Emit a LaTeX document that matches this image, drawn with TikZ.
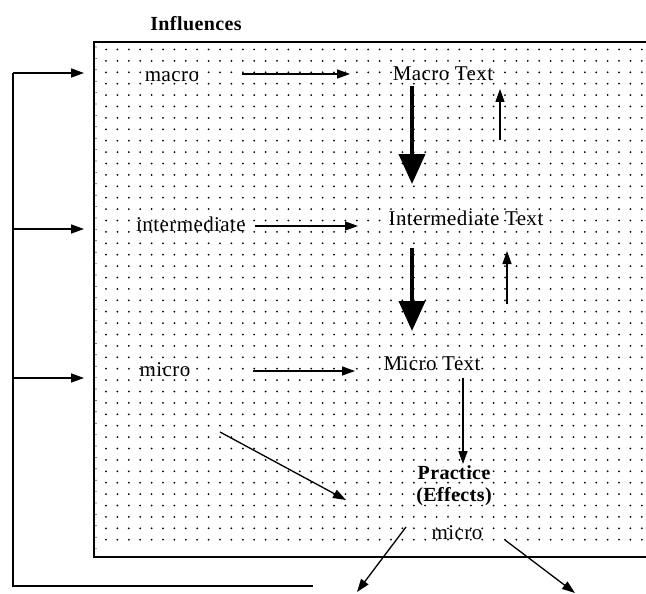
\documentclass[tikz,border=0pt]{standalone}
\usepackage{fontspec}
\setmainfont{Liberation Serif}[LetterSpace=2]
\usetikzlibrary{arrows.meta}
\begin{document}
\begin{tikzpicture}[x=1pt,y=-1pt,
  lbl/.style={inner sep=0pt, font=\fontsize{21}{23}\selectfont},
  bold/.style={inner sep=0pt, font=\fontsize{20}{22}\selectfont\bfseries, align=center},
  thin/.style={line width=1.3pt, -{Triangle[length=13pt,width=9pt]}},
  thick/.style={line width=4pt, -{Triangle[length=30pt,width=26pt]}},
  fb/.style={line width=1.6pt}]
\useasboundingbox (0,0) rectangle (646,594);
\begin{scope}
\clip (0,0) rectangle (646,594);
% box
\draw[line width=1.6pt] (94,42) rectangle (660,557);
\foreach \i in {0,...,47} {
  \foreach \j in {0,...,43} {
    \fill (106+\i*11.4, 49.5+\j*11.4) circle (1pt);
  }
}
\foreach \j in {0,...,44} { \fill (96, 47+\j*11.4) circle (0.6pt); }
\end{scope}

\node[bold] (infl) at (196,24) {Influences};

% nodes
\node[lbl] (macro) at (172,77) {macro};
\node[lbl] (inter) at (191,224) {intermediate};
\node[lbl] (micro) at (165,370) {micro};
\node[lbl] (mtext) at (443,74) {Macro Text};
\node[lbl] (itext) at (466,218) {Intermediate Text};
\node[lbl] (mitext) at (432,364) {Micro Text};
\node[bold] (prac) at (454,486) {Practice\\(Effects)};
\node[lbl] (micro2) at (457,533) {micro};

% coordinates
\coordinate (a1s) at (242,74);  \coordinate (a1e) at (350,74);
\coordinate (a2s) at (255,226); \coordinate (a2e) at (358,226);
\coordinate (a3s) at (253,371); \coordinate (a3e) at (355,371);
\coordinate (t1s) at (412,86);  \coordinate (t1e) at (412,184);
\coordinate (t2s) at (412,248); \coordinate (t2e) at (412,331);
\coordinate (u1s) at (500,140); \coordinate (u1e) at (500,89);
\coordinate (u2s) at (507,304); \coordinate (u2e) at (507,251);
\coordinate (d1s) at (463,378); \coordinate (d1e) at (463,464);
\coordinate (g1s) at (220,432); \coordinate (g1e) at (346,500);
\coordinate (o1s) at (406,527); \coordinate (o1e) at (357,592);
\coordinate (o2s) at (505,540); \coordinate (o2e) at (575,593);

\draw[thin] (a1s) -- (a1e);
\draw[thin] (a2s) -- (a2e);
\draw[thin] (a3s) -- (a3e);
\draw[thick] (t1s) -- (t1e);
\draw[thick] (t2s) -- (t2e);
\draw[thin] (u1s) -- (u1e);
\draw[thin] (u2s) -- (u2e);
\draw[thin] (d1s) -- (d1e);
\draw[thin] (g1s) -- (g1e);
\draw[thin] (o1s) -- (o1e);
\draw[thin] (o2s) -- (o2e);

% feedback loop
\coordinate (fbb) at (313,586);
\coordinate (fbc) at (13,586);
\coordinate (fbt) at (13,73);
\coordinate (f1) at (84,73);
\coordinate (f2m) at (13,229); \coordinate (f2) at (84,229);
\coordinate (f3m) at (13,378); \coordinate (f3) at (84,378);
\draw[fb] (fbb) -- (fbc) -- (fbt);
\draw[thin, line width=1.6pt] (fbt) -- (f1);
\draw[thin, line width=1.6pt] (f2m) -- (f2);
\draw[thin, line width=1.6pt] (f3m) -- (f3);
\end{tikzpicture}
\end{document}
